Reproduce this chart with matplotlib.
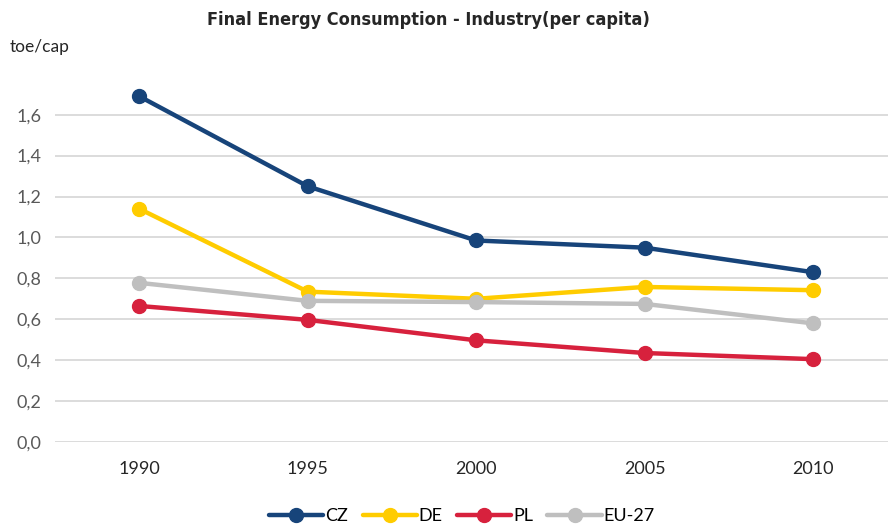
import matplotlib
matplotlib.use("Agg")
import matplotlib.pyplot as plt

years = ["1990", "1995", "2000", "2005", "2010"]
cz = [1.69, 1.25, 0.985, 0.95, 0.83]
de = [1.14, 0.735, 0.70, 0.758, 0.742]
pl = [0.665, 0.597, 0.497, 0.435, 0.405]
eu27 = [0.778, 0.69, 0.684, 0.675, 0.58]
series_names = ["CZ", "DE", "PL", "EU-27"]
colors = ["#17447A", "#FFCC00", "#D7213D", "#BFBFBF"]
yticks = [0.0, 0.2, 0.4, 0.6, 0.8, 1.0, 1.2, 1.4, 1.6]

fig = plt.figure(figsize=(8.89, 5.29), dpi=100)
ax = fig.add_axes([55/889, 1-442/529, (888-55)/889, (442-84)/529])

x = list(range(len(years)))
for vals, name, c in zip([cz, de, pl, eu27], series_names, colors):
    ax.plot(x, vals, color=c, lw=3.2, marker="o", ms=10, label=name,
            solid_capstyle="round", zorder=3)

ax.set_xlim(-0.5, 4.445)
ax.set_ylim(0, 1.75)
ax.set_yticks(yticks)
ax.set_yticklabels([f"{v:.1f}".replace(".", ",") for v in yticks])
ax.set_xticks(x)
ax.set_xticklabels(years)
ax.grid(axis="y", color="#D9D9D9", lw=1.3, zorder=0)
for s in ax.spines.values():
    s.set_visible(False)
ax.tick_params(axis="both", length=0, labelsize=13, labelcolor="#595959",
               pad=10)
for lab in ax.get_yticklabels() + ax.get_xticklabels():
    lab.set_family("Lato")
for lab in ax.get_xticklabels():
    lab.set_color("#262626")
ax.tick_params(axis="x", pad=14)

fig.text(10/889, 1-47/529, "toe/cap", fontsize=12.5, family="Lato",
         color="#262626", va="center", ha="left")
fig.text(428/889, 1-20/529, "Final Energy Consumption - Industry(per capita)",
         fontsize=13, fontweight="bold", family="DejaVu Sans",
         fontstretch="condensed", color="#262626", ha="center", va="center")

leg = fig.legend(loc="center", bbox_to_anchor=(462/889, 1-516/529), ncol=4,
                 frameon=False, handlelength=3.0,
                 handletextpad=0.1, columnspacing=0.8,
                 prop={"family": "Lato", "size": 13})
fig.savefig("out.png", dpi=100)
